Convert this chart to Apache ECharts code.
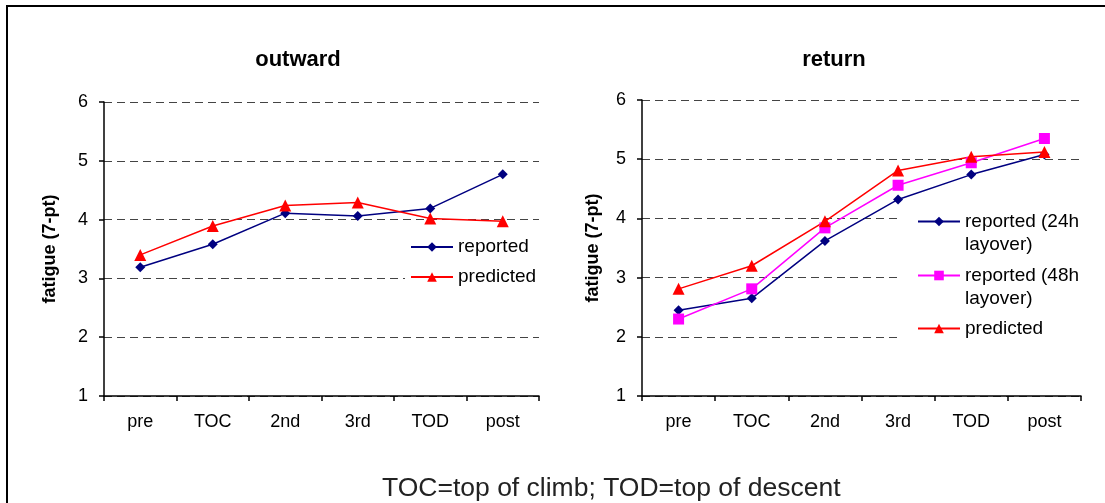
<!DOCTYPE html>
<html>
<head>
<meta charset="utf-8">
<script src="https://cdn.jsdelivr.net/npm/echarts@6/dist/echarts.min.js"></script>
<style>
html,body{margin:0;padding:0;background:#fff;}
#c{width:1105px;height:503px;}
</style>
</head>
<body>
<div id="c"></div>
<script>
var categories = ['pre', 'TOC', '2nd', '3rd', 'TOD', 'post'];
var outwardReported = [3.19, 3.58, 4.11, 4.06, 4.19, 4.77];
var outwardPredicted = [3.40, 3.89, 4.24, 4.29, 4.02, 3.97];
var returnReported24 = [2.45, 2.65, 3.62, 4.32, 4.74, 5.08];
var returnReported48 = [2.30, 2.81, 3.84, 4.56, 4.94, 5.35];
var returnPredicted = [2.81, 3.20, 3.95, 4.81, 5.04, 5.12];
var yTicks = [1, 2, 3, 4, 5, 6];
var titles = ['outward', 'return'];
var yName = 'fatigue (7-pt)';
var footnote = 'TOC=top of climb; TOD=top of descent';

var FONT = "'Liberation Sans', Arial, sans-serif";
var NAVY = '#000080', RED = '#FF0000', MAG = '#FF00FF';

function xAx(gi) {
  return {
    type: 'category', gridIndex: gi, data: categories, boundaryGap: true,
    axisLine: { lineStyle: { color: '#000', width: 1.5 } },
    axisTick: { show: true, length: 5, lineStyle: { color: '#000', width: 1.5 } },
    axisLabel: { color: '#000', fontSize: 18, fontFamily: FONT, margin: 17 },
    splitLine: { show: false }
  };
}
function yAx(gi, gap, margin) {
  return {
    type: 'value', gridIndex: gi, min: yTicks[0], max: yTicks[yTicks.length - 1], interval: 1,
    name: yName, nameLocation: 'middle', nameGap: gap, nameRotate: 90,
    nameTextStyle: { color: '#000', fontSize: 18, fontWeight: 'bold', fontFamily: FONT },
    axisLine: { show: true, lineStyle: { color: '#000', width: 1.5 } },
    axisTick: { show: true, length: 5, lineStyle: { color: '#000', width: 1.5 } },
    axisLabel: { color: '#000', fontSize: 18, fontFamily: FONT, margin: margin },
    splitLine: { show: true, lineStyle: { color: '#444', type: [8, 5], width: 1 } }
  };
}
function ser(name, data, gi, color, symbol, size) {
  return {
    type: 'line', name: name, xAxisIndex: gi, yAxisIndex: gi, data: data,
    symbol: symbol, symbolSize: size, showSymbol: true,
    lineStyle: { color: color, width: 1.5 },
    itemStyle: { color: color, borderWidth: 0 },
    animation: false, z: 3
  };
}

var chart = echarts.init(document.getElementById('c'), null, { renderer: 'canvas' });
chart.setOption({
  animation: false,
  backgroundColor: '#fff',
  textStyle: { fontFamily: FONT },
  title: [
    { text: titles[0], left: 293, top: 44, textAlign: 'center',
      textStyle: { fontSize: 22, fontWeight: 'bold', color: '#000', fontFamily: FONT } },
    { text: titles[1], left: 829, top: 44, textAlign: 'center',
      textStyle: { fontSize: 22, fontWeight: 'bold', color: '#000', fontFamily: FONT } }
  ],
  grid: [
    { left: 104, top: 102, width: 435, height: 294 },
    { left: 642, top: 100, width: 439, height: 296 }
  ],
  xAxis: [xAx(0), xAx(1)],
  yAxis: [yAx(0, 45, 16), yAx(1, 40, 16)],
  legend: [
    {
      orient: 'vertical', left: 410, top: 236, padding: 0, itemGap: 8,
      itemWidth: 42, itemHeight: 12,
      textStyle: { fontSize: 19, color: '#000', fontFamily: FONT, lineHeight: 22 },
      data: ['reported', 'predicted']
    },
    {
      orient: 'vertical', left: 917, top: 187, padding: 0, itemGap: -15,
      itemWidth: 42, itemHeight: 12,
      formatter: function (n) {
        return n.indexOf(' layover)') >= 0 ? '\n' + n.replace(' layover)', '\nlayover)') : n;
      },
      textStyle: { fontSize: 19, color: '#000', fontFamily: FONT, lineHeight: 23 },
      data: [
        { name: 'reported (24h layover)' },
        { name: 'reported (48h layover)' },
        { name: 'predicted ', textStyle: { padding: [22, 0, 22, 0] } }
      ]
    }
  ],
  graphic: [
    { type: 'rect', z: 1, shape: { x: 405, y: 230, width: 136, height: 60 }, style: { fill: '#fff' } },
    { type: 'rect', z: 1, shape: { x: 898, y: 205, width: 185, height: 140 }, style: { fill: '#fff' } },
    { type: 'rect', z: 10, shape: { x: 7, y: 6, width: 1200, height: 600 },
      style: { fill: 'none', stroke: '#000', lineWidth: 2 } },
    { type: 'text', z: 10, left: 382, top: 475,
      style: { text: footnote, fontSize: 26.5, fontFamily: FONT, fill: '#222' } }
  ],
  series: [
    ser('reported', outwardReported, 0, NAVY, 'diamond', 10),
    ser('predicted', outwardPredicted, 0, RED, 'triangle', 12),
    ser('reported (24h layover)', returnReported24, 1, NAVY, 'diamond', 10),
    ser('reported (48h layover)', returnReported48, 1, MAG, 'rect', 11),
    ser('predicted ', returnPredicted, 1, RED, 'triangle', 12)
  ]
});
</script>
</body>
</html>
